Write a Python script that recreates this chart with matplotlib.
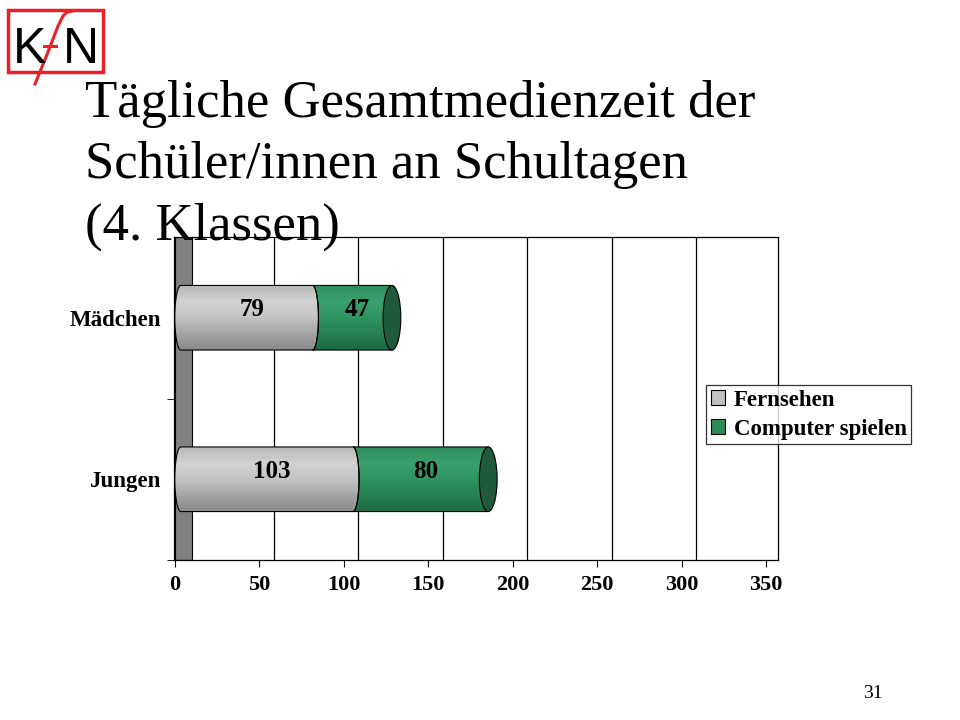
import numpy as np
import matplotlib
matplotlib.use('Agg')
import matplotlib.pyplot as plt
from matplotlib.patches import Rectangle, PathPatch, Ellipse, Patch
from matplotlib.path import Path
from matplotlib.colors import LinearSegmentedColormap
from matplotlib.lines import Line2D

plt.rcParams['font.family'] = ['Liberation Serif', 'DejaVu Serif']

# Daten
gruppen = ['Jungen', 'Mädchen']
fernsehen = [103, 79]
computer = [80, 47]
serien = ['Fernsehen', 'Computer spielen']
x_ticks = [0, 50, 100, 150, 200, 250, 300, 350]

grau_cmap = LinearSegmentedColormap.from_list('grau', ['#8a8a8a', '#a4a4a4', '#c4c4c4', '#d2d2d2', '#b8b8b8'])
gruen_cmap = LinearSegmentedColormap.from_list('gruen', ['#1d6a44', '#27804f', '#2f9461', '#3aa06e', '#2f8d5d'])
deckel = '#1f5a3e'

fig = plt.figure(figsize=(9.6, 7.2), dpi=100)
ax = fig.add_axes([174 / 960, 160 / 720, 604 / 960, 323 / 720])

# graue Seitenwand und Gitterlinien (3D-Rückwand)
wand = 10
gitter_versatz = 8.5
ax.add_patch(Rectangle((0, -0.5), wand, 2, facecolor='#808080', edgecolor='black', lw=0.8, zorder=1))
for t in x_ticks[1:-1]:
    ax.plot([t + gitter_versatz, t + gitter_versatz], [-0.5, 1.5], color='black', lw=0.9, zorder=1)

h = 0.4
rx = 3.5      # Halbbreite der Trennbögen
cap_w = 10.5  # Breite der Deckel-Ellipse
versatz = 2.5


def segment(a, b, y, first):
    ry = h / 2
    if first:
        t1 = np.linspace(np.pi / 2, 3 * np.pi / 2, 40)
    else:
        t1 = np.linspace(np.pi / 2, -np.pi / 2, 40)
    t2 = np.linspace(-np.pi / 2, np.pi / 2, 40)
    xs = np.concatenate([a + rx * np.cos(t1), b + rx * np.cos(t2)])
    ys = np.concatenate([y + ry * np.sin(t1), y + ry * np.sin(t2)])
    verts = np.column_stack([xs, ys])
    verts = np.vstack([verts, verts[:1]])
    return Path(verts, closed=True)


grad = np.linspace(0, 1, 100).reshape(-1, 1)
for i, g in enumerate(gruppen):
    f, c = fernsehen[i], computer[i]
    start = rx
    grenze = f + versatz
    ende = f + c + versatz
    teile = [(start, grenze, grau_cmap), (grenze, ende, gruen_cmap)]
    for k, (a, b, cm) in enumerate(teile):
        p = PathPatch(segment(a, b, i, k == 0), facecolor='none', edgecolor='black', lw=0.8, zorder=4)
        ax.add_patch(p)
        im = ax.imshow(grad, cmap=cm, origin='lower', aspect='auto',
                       extent=[a - 10, b + 10, i - h / 2, i + h / 2], zorder=3)
        im.set_clip_path(p)
    ax.add_patch(Ellipse((ende, i), cap_w, h, facecolor=deckel, edgecolor='black', lw=0.8, zorder=5))
    ax.text((start + grenze) / 2 + 3, i + 0.05, str(f), ha='center', va='center',
            fontsize=18, fontweight='bold', zorder=6)
    ax.text((grenze + ende) / 2 + 3, i + 0.05, str(c), ha='center', va='center',
            fontsize=18, fontweight='bold', zorder=6)

ax.set_xlim(-0.5, 357)
ax.set_ylim(-0.5, 1.5)

ax.set_xticks(x_ticks)
ax.set_xticklabels([str(t) for t in x_ticks], fontsize=16, fontweight='bold')
ax.set_yticks([0, 1])
ax.set_yticklabels(gruppen, fontsize=16.5, fontweight='bold')
ax.set_yticks([-0.5, 0.5], minor=True)
ax.tick_params(axis='y', which='major', length=0, pad=9)
ax.tick_params(axis='y', which='minor', length=5, direction='out')
ax.tick_params(axis='x', length=5, direction='out', pad=6)
for s in ax.spines.values():
    s.set_linewidth(0.9)

# Legende
handles = [Patch(facecolor='#c0c0c0', edgecolor='black', lw=0.8),
           Patch(facecolor='#2e8b5a', edgecolor='black', lw=0.8)]
leg = fig.legend(handles, serien, loc='upper left', bbox_to_anchor=(706 / 960, 1 - 385 / 720),
                 frameon=True, fancybox=False, edgecolor='black', handlelength=0.65,
                 handleheight=0.65, handletextpad=0.35, borderpad=0.2, labelspacing=0.35,
                 borderaxespad=0, prop={'size': 16.5, 'weight': 'bold'})
leg.get_frame().set_linewidth(0.9)

# Titel
fig.text(85 / 960, 1 - 80 / 720,
         'Tägliche Gesamtmedienzeit der\nSchüler/innen an Schultagen\n(4. Klassen)',
         fontsize=38, ha='left', va='top', linespacing=1.36)

# Logo
fig.add_artist(Rectangle((8 / 960, 1 - 72 / 720), 95 / 960, 62 / 720, transform=fig.transFigure,
                         facecolor='none', edgecolor='#e8202a', lw=2.5))
fig.text(13 / 960, 1 - 63 / 720, 'K', fontsize=36, family='Liberation Sans', ha='left', va='baseline')
fig.text(63 / 960, 1 - 63 / 720, 'N', fontsize=36, family='Liberation Sans', ha='left', va='baseline')
fx = np.array([35, 48, 58, 63, 67, 72]) / 960
fy = 1 - np.array([84, 52, 26, 16, 12, 11]) / 720
fig.add_artist(Line2D(fx, fy, transform=fig.transFigure, color='#e8202a', lw=2.2))
fig.add_artist(Line2D([44 / 960, 56 / 960], [1 - 46 / 720, 1 - 46 / 720],
                      transform=fig.transFigure, color='#e8202a', lw=2.2))

fig.text(873 / 960, 1 - 693 / 720, '31', fontsize=14, ha='center', va='center')

fig.savefig('out.png', dpi=100)
